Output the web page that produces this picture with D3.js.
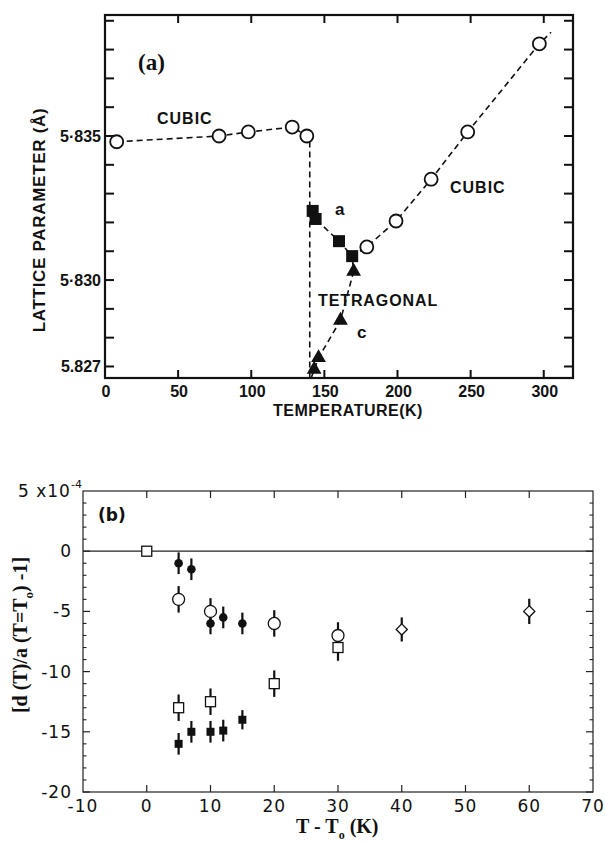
<!DOCTYPE html>
<html><head><meta charset="utf-8">
<script src="https://cdn.jsdelivr.net/npm/d3@7"></script>
<style>body{margin:0;background:#fff}</style>
</head><body><svg id="c" width="605" height="844"></svg>
<script>
// ---------- Panel (a) data ----------
const cubicLowT  = [8, 78, 98, 128, 138];
const cubicLowA  = [5.8348, 5.8350, 5.83514, 5.83531, 5.8350];
const cubicHighT = [179, 199, 223, 248, 297];
const cubicHighA = [5.83115, 5.83205, 5.8335, 5.83514, 5.8382];
const tetraAT = [142, 144, 160, 169];
const tetraAA = [5.8324, 5.83212, 5.83135, 5.83083];
const tetraCT = [143, 146, 161, 170];
const tetraCA = [5.8269, 5.8273, 5.8286, 5.8303];
// dashed guide lines
const guideLowT = [8, 78, 98, 128, 138, 140, 140];
const guideLowA = [5.8348, 5.8350, 5.83514, 5.83531, 5.8350, 5.8349, 5.8266];
const guideAT = [142, 144, 160, 169, 179, 199, 223, 248, 297, 305];
const guideAA = [5.8324, 5.83212, 5.83135, 5.83083, 5.83115, 5.83205, 5.8335, 5.83514, 5.8382, 5.8386];
const guideCT = [141, 143, 146, 161, 170, 169];
const guideCA = [5.8266, 5.8269, 5.8273, 5.8286, 5.8303, 5.8308];
const aXTicks = [0, 50, 100, 150, 200, 250, 300];
const aYTicks = [5.827, 5.828, 5.829, 5.830, 5.831, 5.832, 5.833, 5.834, 5.835, 5.836, 5.837, 5.838, 5.839];
const aYLabelVals = [5.827, 5.830, 5.835];
const aYLabelText = ["5.827", "5·830", "5·835"];

// ---------- Panel (b) data (units of 1e-4) ----------
const openSqX = [0, 5, 10, 20, 30];
const openSqY = [0, -13, -12.5, -11, -8];
const openSqE = [0, 1.1, 1.1, 1.1, 1.1];
const fillCircX = [5, 7, 10, 12, 15];
const fillCircY = [-1, -1.5, -6, -5.5, -6];
const fillCircE = [0.9, 0.9, 0.9, 0.9, 0.9];
const openCircX = [5, 10, 20, 30];
const openCircY = [-4, -5, -6, -7];
const openCircE = [1.1, 1.1, 1.1, 1.1];
const fillSqX = [5, 7, 10, 12, 15];
const fillSqY = [-16, -15, -15, -14.9, -14];
const fillSqE = [0.9, 0.9, 0.9, 0.9, 0.8];
const diamX = [40, 60];
const diamY = [-6.5, -5];
const diamE = [1.0, 1.05];
const bXTicks = [-10, 0, 10, 20, 30, 40, 50, 60, 70];
const bYTicks = [-20, -15, -10, -5, 0];

const svg = d3.select("#c");
const ink = "#111";

// ================= Panel (a) =================
const ax = d3.scaleLinear().domain([0, 320]).range([105, 573]);
const ay = d3.scaleLinear().domain([5.8266, 5.8392]).range([378, 15]);
const ga = svg.append("g");
const fa = "'Liberation Sans', Arial, sans-serif";

ga.append("rect").attr("x", ax(0)).attr("y", ay(5.8392))
  .attr("width", ax(320) - ax(0)).attr("height", ay(5.8266) - ay(5.8392))
  .attr("fill", "none").attr("stroke", ink).attr("stroke-width", 2.2);

ga.selectAll(".xtb").data(aXTicks.filter(d => d > 0)).join("line")
  .attr("x1", d => ax(d)).attr("x2", d => ax(d))
  .attr("y1", ay(5.8266)).attr("y2", ay(5.8266) - 8)
  .attr("stroke", ink).attr("stroke-width", 2);
ga.selectAll(".xtt").data(aXTicks.filter(d => d > 0)).join("line")
  .attr("x1", d => ax(d)).attr("x2", d => ax(d))
  .attr("y1", ay(5.8392)).attr("y2", ay(5.8392) + 8)
  .attr("stroke", ink).attr("stroke-width", 2);
ga.selectAll(".ytl").data(aYTicks).join("line")
  .attr("x1", ax(0)).attr("x2", ax(0) + 9)
  .attr("y1", d => ay(d)).attr("y2", d => ay(d))
  .attr("stroke", ink).attr("stroke-width", 2);
ga.selectAll(".ytr").data(aYTicks).join("line")
  .attr("x1", ax(320)).attr("x2", ax(320) - 9)
  .attr("y1", d => ay(d)).attr("y2", d => ay(d))
  .attr("stroke", ink).attr("stroke-width", 2);

ga.selectAll(".xl").data(aXTicks).join("text")
  .attr("x", d => ax(d) + 1).attr("y", 397)
  .attr("text-anchor", "middle").attr("font-family", fa).attr("font-weight", "bold")
  .attr("font-size", 16).attr("fill", ink).text(d => d);
ga.selectAll(".yl").data(aYLabelVals).join("text")
  .attr("x", 101).attr("y", d => ay(d) + 6)
  .attr("text-anchor", "end").attr("font-family", fa).attr("font-weight", "bold")
  .attr("font-size", 16).attr("fill", ink).text((d, i) => aYLabelText[i]);

ga.append("text").attr("x", 348).attr("y", 416).attr("text-anchor", "middle")
  .attr("font-family", fa).attr("font-weight", "bold").attr("font-size", 16)
  .attr("letter-spacing", 0.5).attr("fill", ink).text("TEMPERATURE(K)");
ga.append("text").attr("transform", "translate(45,220) rotate(-90)").attr("text-anchor", "middle")
  .attr("font-family", fa).attr("font-weight", "bold").attr("font-size", 17)
  .attr("letter-spacing", 0.7).attr("fill", ink).text("LATTICE PARAMETER (Å)");

const lineA = d3.line().x(d => ax(d[0])).y(d => ay(d[1]));
[[guideLowT, guideLowA], [guideAT, guideAA], [guideCT, guideCA]].forEach(([t, a]) => {
  ga.append("path").attr("d", lineA(t.map((v, i) => [v, a[i]])))
    .attr("fill", "none").attr("stroke", ink).attr("stroke-width", 1.6)
    .attr("stroke-dasharray", "6,4");
});

const circA = cubicLowT.map((t, i) => [t, cubicLowA[i]]).concat(cubicHighT.map((t, i) => [t, cubicHighA[i]]));
ga.selectAll(".oc").data(circA).join("circle")
  .attr("cx", d => ax(d[0])).attr("cy", d => ay(d[1])).attr("r", 6.5)
  .attr("fill", "#fff").attr("stroke", ink).attr("stroke-width", 1.8);
ga.selectAll(".fs").data(tetraAT.map((t, i) => [t, tetraAA[i]])).join("rect")
  .attr("x", d => ax(d[0]) - 6).attr("y", d => ay(d[1]) - 6)
  .attr("width", 12).attr("height", 12).attr("fill", ink);
const tri = d3.symbol().type(d3.symbolTriangle).size(95);
ga.selectAll(".ft").data(tetraCT.map((t, i) => [t, tetraCA[i]])).join("path")
  .attr("d", tri).attr("transform", d => `translate(${ax(d[0])},${ay(d[1])})`).attr("fill", ink);

ga.append("text").attr("x", 138).attr("y", 70).attr("font-family", "'Liberation Serif', 'Times New Roman', serif")
  .attr("font-weight", "bold").attr("font-size", 23).attr("fill", ink).text("(a)");
ga.append("text").attr("x", 157).attr("y", 124).attr("font-family", fa).attr("font-weight", "bold")
  .attr("font-size", 16).attr("letter-spacing", 1).attr("fill", ink).text("CUBIC");
ga.append("text").attr("x", 450).attr("y", 193).attr("font-family", fa).attr("font-weight", "bold")
  .attr("font-size", 16).attr("letter-spacing", 1).attr("fill", ink).text("CUBIC");
ga.append("text").attr("x", 318).attr("y", 306).attr("font-family", fa).attr("font-weight", "bold")
  .attr("font-size", 16).attr("letter-spacing", 0.9).attr("fill", ink).text("TETRAGONAL");
ga.append("text").attr("x", 335).attr("y", 215).attr("font-family", fa).attr("font-weight", "bold")
  .attr("font-size", 17).attr("fill", ink).text("a");
ga.append("text").attr("x", 357).attr("y", 338).attr("font-family", fa).attr("font-weight", "bold")
  .attr("font-size", 17).attr("fill", ink).text("c");

// ================= Panel (b) =================
const bx = d3.scaleLinear().domain([-10, 70]).range([83, 593]);
const by = d3.scaleLinear().domain([-20, 5]).range([792, 491]);
const gb = svg.append("g");
const fb = "'DejaVu Sans', Verdana, sans-serif";
const fs = "'Liberation Serif', 'Times New Roman', serif";
const bink = "#222";

gb.append("rect").attr("x", bx(-10)).attr("y", by(5)).attr("width", bx(70) - bx(-10))
  .attr("height", by(-20) - by(5)).attr("fill", "none").attr("stroke", bink).attr("stroke-width", 1.2);
gb.append("line").attr("x1", bx(-10)).attr("x2", bx(70)).attr("y1", by(0)).attr("y2", by(0))
  .attr("stroke", bink).attr("stroke-width", 1.2);

gb.selectAll(".bxt").data(bXTicks.slice(1, -1)).join("line")
  .attr("x1", d => bx(d)).attr("x2", d => bx(d)).attr("y1", by(-20)).attr("y2", by(-20) - 7)
  .attr("stroke", bink).attr("stroke-width", 1.2);
gb.selectAll(".bxtt").data(bXTicks.slice(1, -1)).join("line")
  .attr("x1", d => bx(d)).attr("x2", d => bx(d)).attr("y1", by(5)).attr("y2", by(5) + 7)
  .attr("stroke", bink).attr("stroke-width", 1.2);
const bYMinor = d3.range(-19, 5).filter(v => v % 5 !== 0);
[[bx(-10), 1], [bx(70), -1]].forEach(([x0, s]) => {
  gb.selectAll(null).data(bYTicks).join("line")
    .attr("x1", x0).attr("x2", x0 + s * 7).attr("y1", d => by(d)).attr("y2", d => by(d))
    .attr("stroke", bink).attr("stroke-width", 1.2);
  gb.selectAll(null).data(bYMinor).join("line")
    .attr("x1", x0).attr("x2", x0 + s * 3.5).attr("y1", d => by(d)).attr("y2", d => by(d))
    .attr("stroke", bink).attr("stroke-width", 1.1);
});

gb.selectAll(".bxl").data(bXTicks).join("text")
  .attr("x", d => bx(d)).attr("y", 812).attr("text-anchor", "middle")
  .attr("font-family", fb).attr("font-size", 17).attr("letter-spacing", 1).attr("fill", ink)
  .text(d => d);
gb.selectAll(".byl").data(bYTicks).join("text")
  .attr("x", 72).attr("y", d => by(d) + 6).attr("text-anchor", "end")
  .attr("font-family", fb).attr("font-size", 17).attr("letter-spacing", 1).attr("fill", ink)
  .text(d => d);
const sci = gb.append("text").attr("x", 18).attr("y", 497)
  .attr("font-family", fb).attr("font-size", 17).attr("letter-spacing", 1).attr("fill", ink);
sci.append("tspan").text("5 x10");
sci.append("tspan").attr("dy", -9).attr("font-size", 11).attr("letter-spacing", 0).text("-4");

const xt = gb.append("text").attr("x", 296).attr("y", 833)
  .attr("font-family", fs).attr("font-weight", "bold").attr("font-size", 20).attr("fill", ink);
xt.append("tspan").text("T -  T");
xt.append("tspan").attr("dy", 6).attr("font-size", 12).text("o");
xt.append("tspan").attr("dy", -6).text(" (K)");
const yt = gb.append("text").attr("transform", "translate(27,635) rotate(-90)").attr("text-anchor", "middle")
  .attr("font-family", fs).attr("font-weight", "bold").attr("font-size", 20).attr("fill", ink);
yt.append("tspan").text("[d (T)/a (T=T");
yt.append("tspan").attr("dy", 6).attr("font-size", 13).text("o");
yt.append("tspan").attr("dy", -6).text(") -1]");

gb.append("text").attr("x", 98).attr("y", 521).attr("font-family", fb).attr("font-weight", "bold")
  .attr("font-size", 17).attr("fill", ink).text("(b)");

function errBars(xs, ys, es) {
  gb.selectAll(null).data(xs.map((x, i) => [x, ys[i], es[i]]).filter(d => d[2] > 0)).join("line")
    .attr("x1", d => bx(d[0])).attr("x2", d => bx(d[0]))
    .attr("y1", d => by(d[1] - d[2])).attr("y2", d => by(d[1] + d[2]))
    .attr("stroke", ink).attr("stroke-width", 2.2);
}
errBars(openSqX, openSqY, openSqE);
errBars(fillCircX, fillCircY, fillCircE);
errBars(openCircX, openCircY, openCircE);
errBars(fillSqX, fillSqY, fillSqE);
errBars(diamX, diamY, diamE);

gb.selectAll(null).data(openSqX.map((x, i) => [x, openSqY[i]])).join("rect")
  .attr("x", d => bx(d[0]) - 5).attr("y", d => by(d[1]) - 5).attr("width", 10).attr("height", 10)
  .attr("fill", "#fff").attr("stroke", ink).attr("stroke-width", 1.3);
gb.selectAll(null).data(fillCircX.map((x, i) => [x, fillCircY[i]])).join("circle")
  .attr("cx", d => bx(d[0])).attr("cy", d => by(d[1])).attr("r", 4.3).attr("fill", ink);
gb.selectAll(null).data(openCircX.map((x, i) => [x, openCircY[i]])).join("circle")
  .attr("cx", d => bx(d[0])).attr("cy", d => by(d[1])).attr("r", 6)
  .attr("fill", "#fff").attr("stroke", ink).attr("stroke-width", 1.3);
gb.selectAll(null).data(fillSqX.map((x, i) => [x, fillSqY[i]])).join("rect")
  .attr("x", d => bx(d[0]) - 4).attr("y", d => by(d[1]) - 4).attr("width", 8).attr("height", 8)
  .attr("fill", ink);
const dia = d3.symbol().type(d3.symbolDiamond2).size(80);
gb.selectAll(null).data(diamX.map((x, i) => [x, diamY[i]])).join("path")
  .attr("d", dia).attr("transform", d => `translate(${bx(d[0])},${by(d[1])})`)
  .attr("fill", "#fff").attr("stroke", ink).attr("stroke-width", 1.3);
</script>
</body></html>
